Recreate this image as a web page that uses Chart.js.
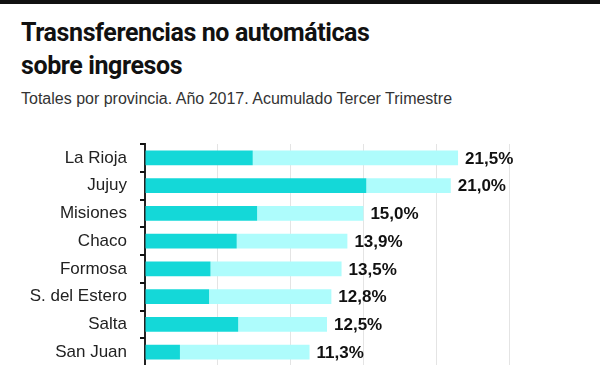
<!DOCTYPE html>
<html>
<head>
<meta charset="utf-8">
<script src="https://cdn.jsdelivr.net/npm/chart.js@4/dist/chart.umd.min.js"></script>
<style>
  html, body { margin: 0; padding: 0; width: 600px; height: 365px; overflow: hidden; background: #fff; }
  #topbar { position: absolute; left: 0; top: 0; width: 600px; height: 4px; background: #111; }
  #title { position: absolute; left: 21px; top: 16px; font-family: Roboto, "Liberation Sans", Arial, sans-serif;
           font-weight: bold; font-size: 25px; letter-spacing: -0.4px; line-height: 33px; color: #111; }
  #subtitle { position: absolute; left: 21px; top: 90px; font-family: "Liberation Sans", Arial, sans-serif;
              font-size: 16px; color: #333; white-space: nowrap; }
  #wrap { position: absolute; left: 0; top: 130px; width: 600px; height: 240px; }
</style>
</head>
<body>
<div id="topbar"></div>
<div id="title">Trasnsferencias no automáticas<br>sobre ingresos</div>
<div id="subtitle">Totales por provincia. Año 2017. Acumulado Tercer Trimestre</div>
<div id="wrap"><canvas id="chart"></canvas></div>
<script>
// provincias (solo las visibles)
const provincias = ['La Rioja', 'Jujuy', 'Misiones', 'Chaco', 'Formosa', 'S. del Estero', 'Salta', 'San Juan'];
// tramo oscuro y tramo claro de cada barra
const tramoOscuro = [7.4, 15.2, 7.7, 6.3, 4.5, 4.4, 6.4, 2.4];
const tramoClaro = [14.1, 5.8, 7.3, 7.6, 9.0, 8.4, 6.1, 8.9];
// total que se muestra al final de la barra
const totales = [21.5, 21.0, 15.0, 13.9, 13.5, 12.8, 12.5, 11.3];
const xTicks = [0, 5, 10, 15, 20, 25];

const etiquetasTotales = {
    id: 'etiquetasTotales',
    afterDatasetsDraw(chart) {
        const ctx = chart.ctx;
        const meta = chart.getDatasetMeta(1);
        ctx.save();
        ctx.font = 'bold 17px "Liberation Sans", Arial, sans-serif';
        ctx.fillStyle = '#111';
        ctx.textAlign = 'left';
        ctx.textBaseline = 'middle';
        meta.data.forEach((bar, i) => {
            const txt = totales[i].toFixed(1).replace('.', ',') + '%';
            ctx.fillText(txt, bar.x + 7, bar.y + 1);
        });

        // marcas cortas del eje entre categorias
        const yScale = chart.scales.y;
        const paso = yScale.getPixelForTick(1) - yScale.getPixelForTick(0);
        const left = chart.chartArea.left;
        ctx.fillStyle = '#111';
        for (let i = 0; i < provincias.length; i++) {
            const py = Math.round(yScale.getPixelForTick(i) - paso / 2);
            ctx.fillRect(left - 5, py - 1, 5, 2);
        }
        ctx.restore();
    }
};

new Chart(document.getElementById('chart'), {
    type: 'bar',
    data: {
        labels: provincias,
        datasets: [
            { data: tramoOscuro, backgroundColor: '#14d8d8', barPercentage: 0.54, categoryPercentage: 1 },
            { data: tramoClaro, backgroundColor: '#aefcfc', barPercentage: 0.54, categoryPercentage: 1 }
        ]
    },
    options: {
        indexAxis: 'y',
        responsive: true,
        maintainAspectRatio: false,
        animation: false,
        layout: { autoPadding: false, padding: { top: 14, bottom: 4, left: 0, right: 91 } },
        plugins: { legend: { display: false }, tooltip: { enabled: false } },
        scales: {
            x: {
                stacked: true,
                min: 0,
                max: 25,
                afterBuildTicks: (scale) => { scale.ticks = xTicks.map(v => ({ value: v })); },
                afterFit: (scale) => { scale.height = 0; },
                ticks: { display: false },
                grid: { color: '#e4e4e4', lineWidth: 1, drawTicks: false },
                border: { display: false }
            },
            y: {
                stacked: true,
                afterFit: (scale) => {
                    scale.width = 145;
                    scale.paddingTop = 0;
                    scale.paddingBottom = 0;
                },
                ticks: {
                    color: '#222',
                    padding: 14,
                    font: { family: '"Liberation Sans", Arial, sans-serif', size: 17 }
                },
                grid: { offset: true, drawOnChartArea: false, drawTicks: true, tickLength: 4, color: '#111', lineWidth: 2 },
                border: { display: true, color: '#222', width: 2 }
            }
        }
    },
    plugins: [etiquetasTotales]
});
</script>
</body>
</html>
